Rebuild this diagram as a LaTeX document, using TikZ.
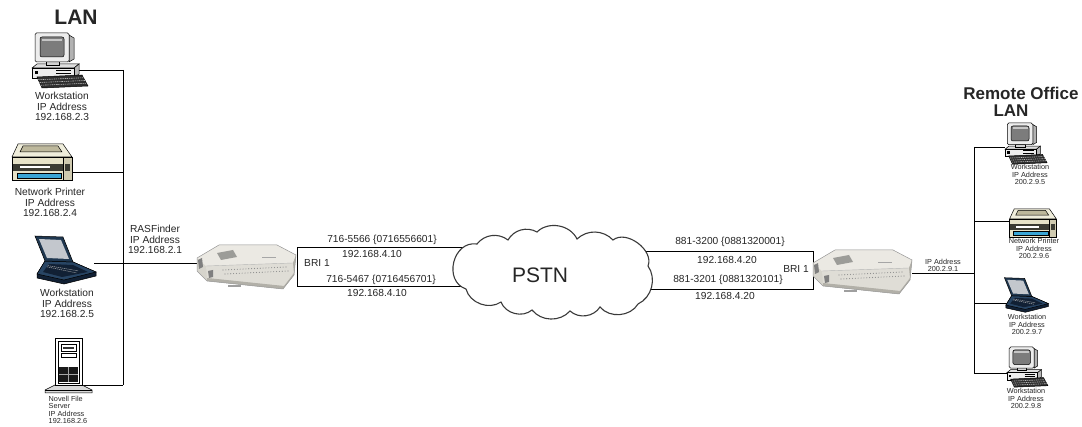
\documentclass[tikz,border=0pt]{standalone}
\usepackage{fontspec}
\setmainfont{Liberation Sans}
\usetikzlibrary{calc}

\definecolor{ink}{HTML}{262626}
\definecolor{shellA}{HTML}{EDEDED}
\definecolor{shellB}{HTML}{DEDEDE}
\definecolor{scrn}{HTML}{7C7C7C}
\definecolor{kbd}{HTML}{2E2E2E}
\definecolor{modemA}{HTML}{D6D4CC}
\definecolor{modemT}{HTML}{EBE9E3}
\definecolor{modemF}{HTML}{DFDDD6}
\definecolor{modemS}{HTML}{B2B0A8}
\definecolor{ventc}{HTML}{9C9C98}
\definecolor{ledc}{HTML}{8E8E8E}
\definecolor{footc}{HTML}{7F7F7F}
\definecolor{beigeT}{HTML}{EFEDDB}
\definecolor{beigeD}{HTML}{BDB89C}
\definecolor{beigeF}{HTML}{E6E2C8}
\definecolor{beigeS}{HTML}{CFCAB0}
\definecolor{darkband}{HTML}{3B3B33}
\definecolor{cyanp}{HTML}{3AA6D6}
\definecolor{navy}{HTML}{1F3750}
\definecolor{navyL}{HTML}{284564}
\definecolor{navyD}{HTML}{112034}
\definecolor{scrnL}{HTML}{C3C7CD}
\definecolor{cloudline}{HTML}{3A3A3A}

\newcommand\lblfont{\fontsize{10.2}{10.6}\selectfont}
\newcommand\smlfont{\fontsize{7.3}{7.6}\selectfont}
\newcommand\ttlfont{\fontsize{21}{21}\selectfont\bfseries}
\newcommand\rttlfont{\fontsize{17}{17}\selectfont\bfseries}

\tikzset{
  outl/.style={draw=black, line width=0.5pt},
  % desktop computer: monitor, system unit, keyboard (55 x 55)
  desktop/.pic={
    \draw[outl, fill=shellB] (0,35) -- (5,31) -- (47,31) -- (42,35) -- cycle;
    \draw[outl, fill=gray!55] (42,35) -- (47,31) -- (47,41) -- (42,45) -- cycle;
    \draw[outl, fill=shellA] (0,35) rectangle (42,45);
    \draw[outl] (24,37) -- (39,37);
    \draw[outl] (24,40) -- (39,40);
    \fill[black] (3,38) rectangle (6,41);
    \draw[outl, fill=gray!35] (14,28) rectangle (27,32);
    \draw[outl, fill=gray!60] (37,2) -- (42,5) -- (42,26) -- (37,29) -- cycle;
    \draw[outl, fill=shellA, rounded corners=1.5] (3,0) rectangle (37,29);
    \draw[outl, fill=scrn, rounded corners=2] (8,4) rectangle (32,24);
    \fill[gray!45] (10,6) rectangle (30,8);
    \draw[outl, fill=kbd] (5,44) -- (50,42) -- (56,53) -- (10,55) -- cycle;
    \foreach \t in {0.25,0.5,0.75}
      \draw[gray!55, line width=0.6pt, dash pattern=on 1.4pt off 0.8pt]
        ($(5,44)!\t!(10,55)$) -- ($(50,42)!\t!(56,53)$);
  },
  % laser printer (63 x 40)
  printer/.pic={
    \draw[outl, fill=beigeT] (8,1) -- (53,1) -- (62,14) -- (2,14) -- cycle;
    \draw[outl, fill=beigeD] (13,3) -- (48,3) -- (52,9) -- (10,9) -- cycle;
    \draw[outl, fill=beigeF] (2,14) rectangle (62,37);
    \fill[darkband] (2,21) rectangle (53,28);
    \fill[white] (10,23) rectangle (40,25.5);
    \draw[outl, fill=cyanp] (7,30) rectangle (51,35.5);
    \draw[outl, fill=beigeS] (53,14) rectangle (62,37);
    \fill[darkband] (55,21) rectangle (60,28);
    \draw[outl] (2,14) rectangle (62,37);
  },
  % notebook computer (64 x 50)
  laptop/.pic={
    \draw[outl, fill=navyD] (12,26) -- (40,27) -- (63,37) -- (63,41) -- (31,49) -- (4,43) -- (4,39) -- cycle;
    \draw[outl, fill=navyL] (12,26) -- (40,27) -- (63,37) -- (31,45) -- (4,39) -- cycle;
    \fill[navyD] (16,29) -- (40,30) -- (55,37) -- (29,42) -- (10,37) -- cycle;
    \foreach \t in {0.3,0.6}
      \draw[gray!60, line width=0.5pt, dash pattern=on 1.2pt off 0.8pt]
        ($(13,33)!\t!(16,29)$) -- ($(42,40)!\t!(47,33)$);
    \draw[outl, fill=navy] (2,1) -- (30,2) -- (40,27) -- (12,26) -- cycle;
    \fill[scrnL] (6,4) -- (28,5) -- (36,24) -- (14,23) -- cycle;
  },
  % tower file server (47 x 55)
  tower/.pic={
    \draw[outl, fill=gray!30] (10,47) -- (37,47) -- (47,52) -- (47,55) -- (0,55) -- (0,52) -- cycle;
    \draw[outl] (0,52) -- (47,52);
    \draw[outl, fill=white] (10,0) rectangle (37,47);
    \draw[outl] (13,3) rectangle (34,45);
    \draw[outl, fill=white] (16,6) rectangle (31,13);
    \fill[black!80] (18,9) rectangle (29,11);
    \draw[outl] (16,15) rectangle (31,19);
    \fill[black!90] (14,29) rectangle (33,44);
    \draw[gray!70, line width=0.5pt] (14,36.5) -- (33,36.5) (23.5,29) -- (23.5,44);
  },
  % RASFinder router box (100 x 45)
  modem/.pic={
    \fill[modemA] (0,13) -- (22,0) -- (80,0) -- (99,10) -- (97,30) -- (86,44) -- (10,36) -- (0,26) -- cycle;
    \fill[modemT] (0,13) -- (22,0) -- (80,0) -- (99,10) -- (96,18) -- (9,21) -- cycle;
    \fill[modemF] (9,21) -- (96,18) -- (97,28) -- (87,41) -- (10,33) -- cycle;
    \fill[modemS] (10,33) -- (87,41) -- (97,28) -- (97,30) -- (86,44) -- (10,36) -- cycle;
    \fill[modemS] (96,18) -- (99,10) -- (97,30) -- (97,28) -- cycle;
    \draw[gray!55, line width=0.4pt] (9,21) -- (96,18);
    \fill[ventc] (20,8) -- (36,5) -- (40,12) -- (24,15) -- cycle;
    \foreach \i in {0,...,22} {
      \fill[ledc] ($(26,25)!\i/22!(89,22)$) circle (0.55);
      \fill[ledc] ($(28,29)!\i/22!(91,26)$) circle (0.55);
    }
    \fill[footc] (1,15) -- (5,13) -- (6,22) -- (2,24) -- cycle;
    \fill[footc] (11,26) -- (16,25) -- (16,32) -- (12,33) -- cycle;
    \fill[gray!70] (65,12) rectangle (79,13.5);
    \fill[gray!75] (31,40) rectangle (44,42);
    \draw[gray!80, line width=0.5pt] (0,13) -- (22,0) -- (80,0) -- (99,10) -- (97,30) -- (86,44) -- (10,36) -- (0,26) -- cycle;
  }
}

\begin{document}
\begin{tikzpicture}[x=1pt, y=-1pt,
  wire/.style={draw=black, line width=0.85pt},
  lbl/.style={font=\lblfont, text=ink, align=center, inner sep=0pt},
  sml/.style={font=\smlfont, text=ink, align=center, inner sep=0pt},
  cloudedge/.style={draw=cloudline, line width=1.1pt, fill=white}]

\useasboundingbox (0,0) rectangle (1082,427);

% ---------- local LAN ----------
\coordinate (pWS1) at (77,70);   \coordinate (bWS1) at (123,70);
\coordinate (pPR)  at (72,172);  \coordinate (bPR)  at (123,172);
\coordinate (pLT)  at (94,263);  \coordinate (bJ)   at (123,263);
\coordinate (pSV)  at (82,385);  \coordinate (bSV)  at (123,385);
\coordinate (pRL)  at (199,263);

\draw[wire] (bWS1) -- (bSV);
\draw[wire] (pWS1) -- (bWS1);
\draw[wire] (pPR) -- (bPR);
\draw[wire] (pLT) -- (bJ);
\draw[wire] (pSV) -- (bSV);
\draw[wire] (bJ) -- (pRL);

% ---------- BRI trunks ----------
\coordinate (lbTL) at (297,247); \coordinate (lbBL) at (297,286);
\coordinate (cTL)  at (520,247); \coordinate (cBL)  at (520,286);
\coordinate (rbTR) at (813,251); \coordinate (rbBR) at (813,289);
\coordinate (cTR)  at (580,251); \coordinate (cBR)  at (580,289);
\draw[wire] (cTL) -- (lbTL) -- (lbBL) -- (cBL);
\draw[wire] (cTR) -- (rbTR) -- (rbBR) -- (cBR);

% ---------- remote LAN ----------
\coordinate (pRR)  at (912,273); \coordinate (rJ)   at (974,273);
\coordinate (rTop) at (974,147); \coordinate (rBot) at (974,373);
\coordinate (rPR)  at (974,221); \coordinate (rLT)  at (974,303);
\coordinate (qWS1) at (1005,147);
\coordinate (qPR)  at (1009,221);
\coordinate (qLT)  at (1008,303);
\coordinate (qWS2) at (1007,373);
\draw[wire] (rTop) -- (rBot);
\draw[wire] (pRR) -- (rJ);
\draw[wire] (rTop) -- (qWS1);
\draw[wire] (rPR) -- (qPR);
\draw[wire] (rLT) -- (qLT);
\draw[wire] (rBot) -- (qWS2);

% ---------- PSTN cloud ----------
\draw[cloudedge]
  (466,289) to[bend left=85, looseness=1.35] (477,244)
  to[bend left=45] (508,240)
  to[bend left=45] (537,232)
  to[bend left=55] (577,239)
  to[bend left=45] (613,240)
  to[bend left=75] (648,266)
  to[bend left=50] (638,304)
  to[bend left=55] (600,307)
  to[bend left=50] (570,311)
  to[bend left=50] (532,310)
  to[bend left=55] (501,302)
  to[bend left=55] (466,289) -- cycle;
\node[font=\fontsize{21}{21}\selectfont, text=ink, inner sep=0pt] (pstn) at (540,275) {PSTN};

% ---------- devices ----------
\pic at (32,33) {desktop};
\pic at (10,143) {printer};
\pic at (33,235) {laptop};
\pic at (45,338) {tower};
\pic at (197,245) {modem};
\pic at (813,250) {modem};
\pic[scale=0.75] at (1005,123) {desktop};
\pic[scale=0.78] at (1008,208) {printer};
\pic[scale=0.72] at (1003,277) {laptop};
\pic[scale=0.73] at (1007,347) {desktop};

% ---------- labels ----------
\node[font=\ttlfont, text=ink, inner sep=0pt, anchor=base] (ltitle) at (76,25) {LAN};
\node[font=\rttlfont, text=ink, inner sep=0pt, align=center, anchor=base] (rtitle) at (1021,117) {Remote Office\\\hspace*{-20pt}LAN};

\node[lbl, anchor=base] (tWS1) at (62,121) {Workstation\\IP Address\\192.168.2.3};
\node[lbl, anchor=base] (tPR)  at (50,217) {Network Printer\\IP Address\\192.168.2.4};
\node[lbl, anchor=base] (tLT)  at (67,318) {Workstation\\IP Address\\192.168.2.5};
\node[sml, align=left, anchor=base west] (tSV) at (48.5,424) {Novell File\\Server\\IP Address\\192.168.2.6};
\node[lbl, anchor=base] (tRAS) at (155,254) {RASFinder\\IP Address\\192.168.2.1};

\node[lbl, anchor=base] (l1) at (382,243) {716-5566 \{0716556601\}};
\node[lbl, anchor=base] (l2) at (372,258) {192.168.4.10};
\node[lbl, anchor=base west] (l3) at (304,267) {BRI 1};
\node[lbl, anchor=base] (l4) at (381,283) {716-5467 \{0716456701\}};
\node[lbl, anchor=base] (l5) at (377,297) {192.168.4.10};

\node[lbl, anchor=base] (r1) at (730,245) {881-3200 \{0881320001\}};
\node[lbl, anchor=base] (r2) at (727,264) {192.168.4.20};
\node[lbl, anchor=base east] (r3) at (809,273) {BRI 1};
\node[lbl, anchor=base] (r4) at (728,283) {881-3201 \{0881320101\}};
\node[lbl, anchor=base] (r5) at (725,300) {192.168.4.20};

\node[sml, anchor=base] (tRR)  at (943,272) {IP Address\\200.2.9.1};
\node[sml, anchor=base] (uWS1) at (1030,185) {Workstation\\IP Address\\200.2.9.5};
\node[sml, anchor=base] (uPR)  at (1034,259) {Network Printer\\IP Address\\200.2.9.6};
\node[sml, anchor=base] (uLT)  at (1027,335) {Workstation\\IP Address\\200.2.9.7};
\node[sml, anchor=base] (uWS2) at (1026,409) {Workstation\\IP Address\\200.2.9.8};

\end{tikzpicture}
\end{document}
